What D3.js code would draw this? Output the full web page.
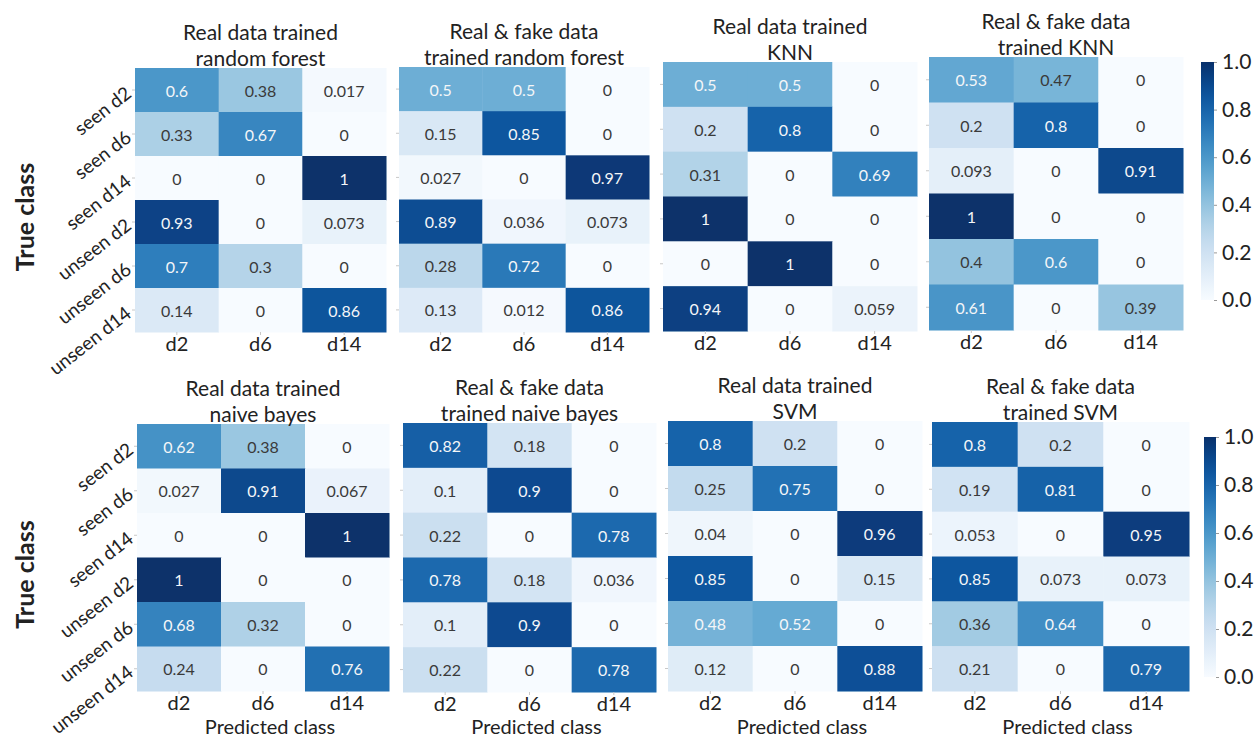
<!DOCTYPE html>
<html>
<head>
<meta charset="utf-8">
<script src="https://cdn.jsdelivr.net/npm/d3@7"></script>
<style>
  body { margin: 0; background: #fff; }
  svg { display: block; font-family: Lato, "Noto Sans", sans-serif; }
</style>
</head>
<body>
<svg id="chart" width="1254" height="737"></svg>
<script>
// ---- data ----
const trueClasses = ["seen d2", "seen d6", "seen d14", "unseen d2", "unseen d6", "unseen d14"];
const predClasses = ["d2", "d6", "d14"];
const colorbarTicks = [0, 0.2, 0.4, 0.6, 0.8, 1.0];

const panelTitles = [
  ["Real data trained", "random forest"],
  ["Real & fake data", "trained random forest"],
  ["Real data trained", "KNN"],
  ["Real & fake data", "trained KNN"],
  ["Real data trained", "naive bayes"],
  ["Real & fake data", "trained naive bayes"],
  ["Real data trained", "SVM"],
  ["Real & fake data", "trained SVM"]
];

const rfReal     = [[0.6, 0.38, 0.017], [0.33, 0.67, 0], [0, 0, 1], [0.93, 0, 0.073], [0.7, 0.3, 0], [0.14, 0, 0.86]];
const rfMixed    = [[0.5, 0.5, 0], [0.15, 0.85, 0], [0.027, 0, 0.97], [0.89, 0.036, 0.073], [0.28, 0.72, 0], [0.13, 0.012, 0.86]];
const knnReal    = [[0.5, 0.5, 0], [0.2, 0.8, 0], [0.31, 0, 0.69], [1, 0, 0], [0, 1, 0], [0.94, 0, 0.059]];
const knnMixed   = [[0.53, 0.47, 0], [0.2, 0.8, 0], [0.093, 0, 0.91], [1, 0, 0], [0.4, 0.6, 0], [0.61, 0, 0.39]];
const nbReal     = [[0.62, 0.38, 0], [0.027, 0.91, 0.067], [0, 0, 1], [1, 0, 0], [0.68, 0.32, 0], [0.24, 0, 0.76]];
const nbMixed    = [[0.82, 0.18, 0], [0.1, 0.9, 0], [0.22, 0, 0.78], [0.78, 0.18, 0.036], [0.1, 0.9, 0], [0.22, 0, 0.78]];
const svmReal    = [[0.8, 0.2, 0], [0.25, 0.75, 0], [0.04, 0, 0.96], [0.85, 0, 0.15], [0.48, 0.52, 0], [0.12, 0, 0.88]];
const svmMixed   = [[0.8, 0.2, 0], [0.19, 0.81, 0], [0.053, 0, 0.95], [0.85, 0.073, 0.073], [0.36, 0.64, 0], [0.21, 0, 0.79]];

const matrices = [rfReal, rfMixed, knnReal, knnMixed, nbReal, nbMixed, svmReal, svmMixed];

// ---- layout (pixel boxes for each heatmap and colour bar) ----
const panelBoxes = [
  { x: 135, y: 68,  w: 251, h: 264 },
  { x: 399, y: 67,  w: 250, h: 265 },
  { x: 663, y: 62,  w: 254, h: 269 },
  { x: 929, y: 57,  w: 254, h: 273 },
  { x: 137, y: 424, w: 252, h: 267 },
  { x: 403, y: 423, w: 253, h: 269 },
  { x: 668, y: 421, w: 254, h: 270 },
  { x: 932, y: 422, w: 257, h: 269 }
];
const colorbarBoxes = [
  { x: 1201, y: 62,  w: 13, h: 238 },
  { x: 1204, y: 437, w: 12, h: 240 }
];

const svg = d3.select("#chart");
const color = d3.scaleSequential(d3.interpolateBlues).domain([0, 1]);

// text colour chosen from the luminance of the cell behind it
function textColour(v) {
  const c = d3.rgb(color(v));
  const lin = ch => { ch /= 255; return ch <= 0.03928 ? ch / 12.92 : Math.pow((ch + 0.055) / 1.055, 2.4); };
  const L = 0.2126 * lin(c.r) + 0.7152 * lin(c.g) + 0.0722 * lin(c.b);
  return L <= 0.408 ? "#f4f6f8" : "#3a3a3a";
}

const defs = svg.append("defs");
const blur = defs.append("filter").attr("id", "soft").attr("x", "-5%").attr("y", "-5%").attr("width", "110%").attr("height", "110%");
blur.append("feGaussianBlur").attr("stdDeviation", 0.6);

const labelSize = 20;

matrices.forEach((m, i) => {
  const box = panelBoxes[i];
  const g = svg.append("g").attr("transform", `translate(${box.x},${box.y})`);
  const xs = d3.scaleBand().domain(predClasses).range([0, box.w]);
  const ys = d3.scaleBand().domain(trueClasses).range([0, box.h]);

  const cells = [];
  m.forEach((row, r) => row.forEach((v, c) => cells.push({ r: trueClasses[r], c: predClasses[c], v })));

  g.append("g").attr("filter", "url(#soft)")
    .selectAll("rect").data(cells).join("rect")
    .attr("x", d => xs(d.c))
    .attr("y", d => ys(d.r))
    .attr("width", xs.bandwidth() + 0.5)
    .attr("height", ys.bandwidth() + 0.5)
    .attr("fill", d => color(d.v));

  g.selectAll("text.annot").data(cells).join("text")
    .attr("class", "annot")
    .attr("x", d => xs(d.c) + xs.bandwidth() / 2)
    .attr("y", d => ys(d.r) + ys.bandwidth() / 2)
    .attr("text-anchor", "middle")
    .attr("dominant-baseline", "central")
    .attr("font-size", 16)
    .attr("fill", d => textColour(d.v))
    .text(d => String(d.v));

  // x axis ticks and labels
  const xAxis = d3.axisBottom(xs).tickSize(3).tickPadding(2);
  const xg = g.append("g").attr("transform", `translate(0,${box.h})`).call(xAxis);
  xg.select(".domain").remove();
  xg.selectAll(".tick line").attr("stroke", "#c8c8c8");
  xg.selectAll(".tick text").attr("font-size", labelSize).attr("fill", "#222").attr("font-family", "Lato, sans-serif");

  // y axis ticks (labels only on the first column)
  const yAxis = d3.axisLeft(ys).tickSize(3).tickPadding(5);
  const yg = g.append("g").call(yAxis);
  yg.select(".domain").remove();
  yg.selectAll(".tick line").attr("stroke", "#c8c8c8");
  if (i % 4 === 0) {
    yg.selectAll(".tick text")
      .attr("font-size", 19).attr("fill", "#222").attr("font-family", "Lato, sans-serif")
      .attr("text-anchor", "end")
      .attr("dominant-baseline", "central")
      .attr("dy", null)
      .attr("x", -7)
      .attr("transform", "rotate(-38,-7,0)");
  } else {
    yg.selectAll(".tick text").remove();
  }

  // title
  const t = panelTitles[i];
  g.append("text")
    .attr("x", box.w / 2).attr("y", -37)
    .attr("text-anchor", "middle").attr("dominant-baseline", "central")
    .attr("font-size", 21).attr("fill", "#222")
    .text(t[0]);
  g.append("text")
    .attr("x", box.w / 2).attr("y", -11)
    .attr("text-anchor", "middle").attr("dominant-baseline", "central")
    .attr("font-size", 21).attr("fill", "#222")
    .text(t[1]);

  if (i >= 4) {
    g.append("text")
      .attr("x", box.w / 2 + 7).attr("y", 726 - box.y)
      .attr("text-anchor", "middle").attr("dominant-baseline", "central")
      .attr("font-size", 20).attr("fill", "#222")
      .text("Predicted class");
  }
  if (i % 4 === 0) {
    g.append("text")
      .attr("transform", `translate(${24 - box.x},${box.h / 2 + 17}) rotate(-90)`)
      .attr("text-anchor", "middle").attr("dominant-baseline", "central")
      .attr("font-size", 25).attr("font-weight", "bold").attr("fill", "#222")
      .text("True class");
  }
});

// colour bars
colorbarBoxes.forEach((cb, k) => {
  const gradId = "cbGrad" + k;
  const grad = defs.append("linearGradient").attr("id", gradId)
    .attr("x1", 0).attr("y1", 1).attr("x2", 0).attr("y2", 0);
  d3.range(0, 1.0001, 0.05).forEach(s => {
    grad.append("stop").attr("offset", s).attr("stop-color", color(s));
  });
  const g = svg.append("g").attr("transform", `translate(${cb.x},${cb.y})`);
  g.append("rect").attr("width", cb.w).attr("height", cb.h).attr("fill", `url(#${gradId})`);
  const cs = d3.scaleLinear().domain([0, 1]).range([cb.h, 0]);
  const ax = d3.axisRight(cs).tickValues(colorbarTicks).tickFormat(d3.format(".1f")).tickSize(3).tickPadding(5);
  const ag = g.append("g").attr("transform", `translate(${cb.w},0)`).call(ax);
  ag.select(".domain").remove();
  ag.selectAll(".tick line").attr("stroke", "#999");
  ag.selectAll(".tick text").attr("font-size", 21).attr("fill", "#222").attr("font-family", "Lato, sans-serif");
});
</script>
</body>
</html>
